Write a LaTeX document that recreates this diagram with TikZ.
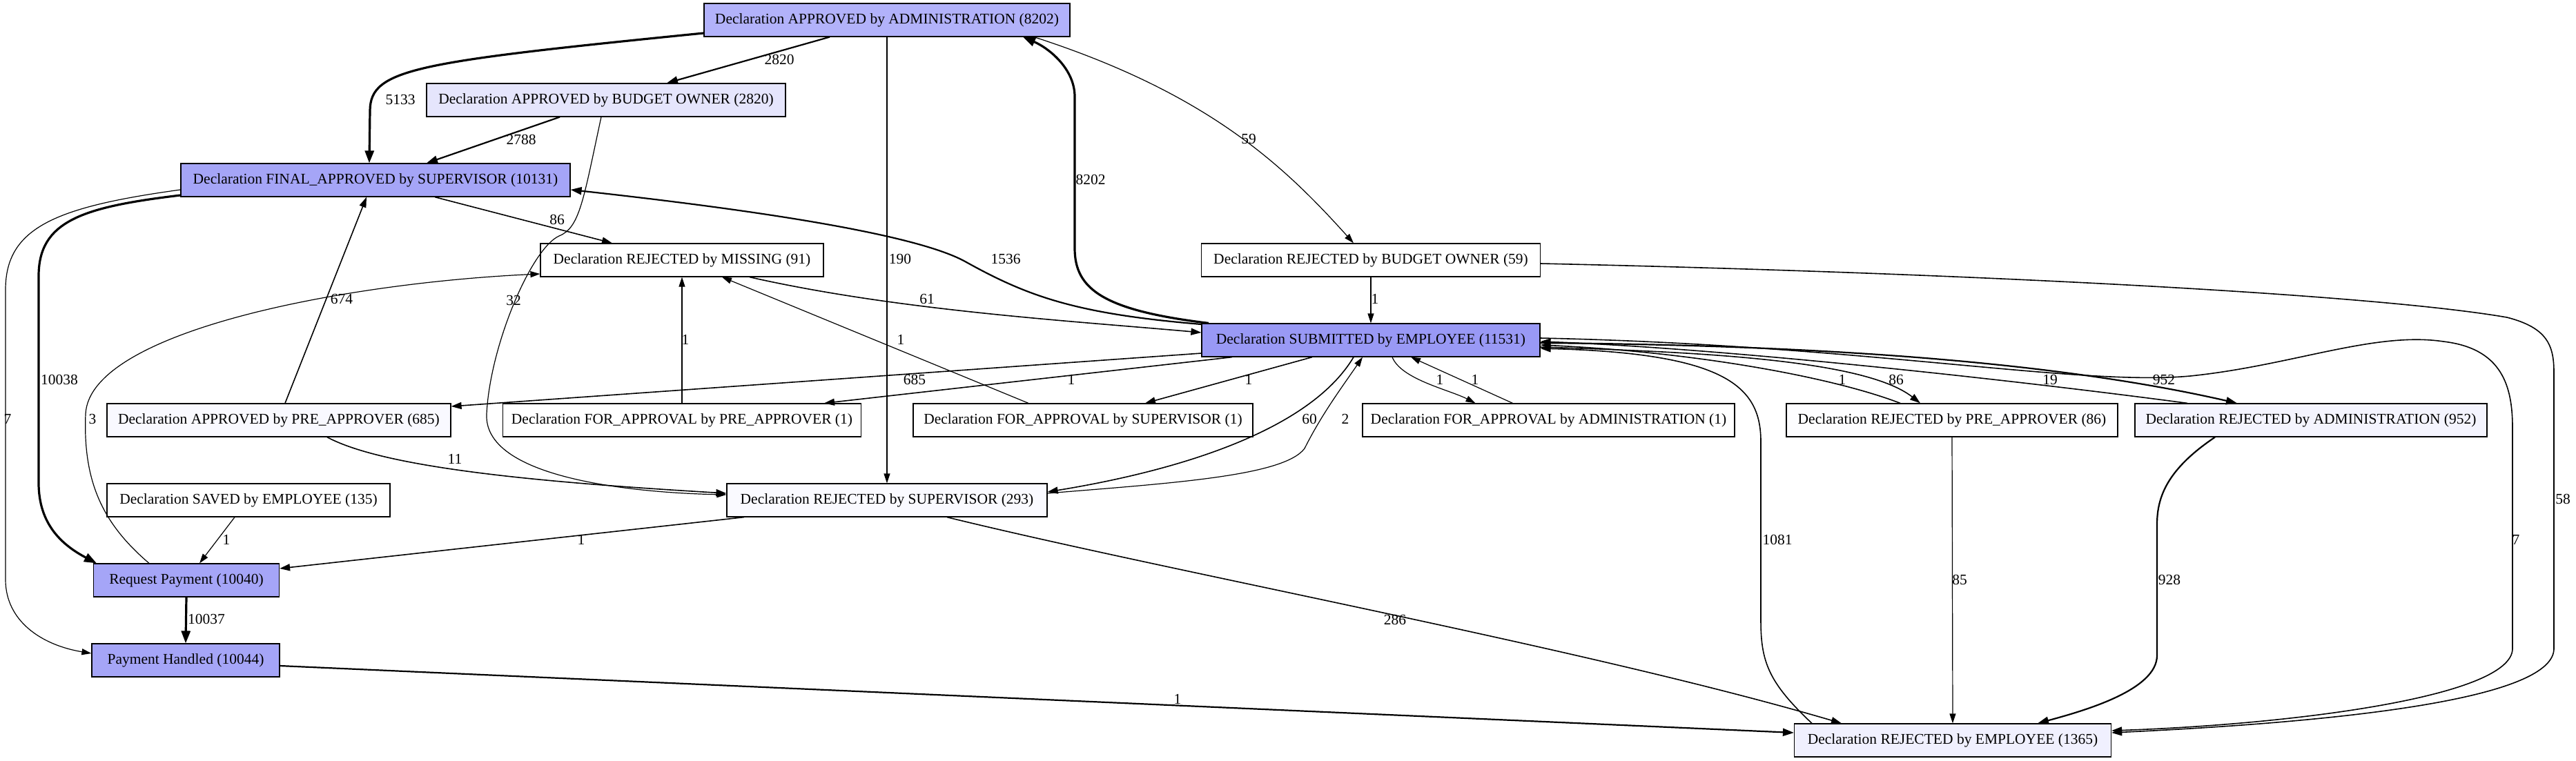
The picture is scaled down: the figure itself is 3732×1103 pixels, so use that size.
\documentclass[tikz,border=0pt]{standalone}
\usepackage{fontspec}
\setmainfont{Liberation Serif}
\usetikzlibrary{arrows.meta}
\definecolor{cA}{RGB}{178,178,250}
\definecolor{cFA}{RGB}{165,165,247}
\definecolor{cS}{RGB}{153,153,245}
\definecolor{cBO}{RGB}{229,229,252}
\definecolor{cAPA}{RGB}{249,249,255}
\definecolor{cRE}{RGB}{240,240,254}
\definecolor{cRAD}{RGB}{244,244,254}
\definecolor{cRS}{RGB}{250,250,255}
\definecolor{cRPA}{RGB}{253,253,255}
\begin{document}
\begin{tikzpicture}[x=1pt,y=-1pt,
  box/.style={draw=black, line width=1.2pt, minimum height=48pt, inner sep=2pt, font=\fontsize{21.5}{25}\selectfont},
  lbl/.style={font=\fontsize{21.5}{25}\selectfont, inner sep=0pt},
  ea/.style={line width=1.2pt, -{Triangle[length=14pt,width=9pt]}},
  eb/.style={line width=1.6pt, -{Triangle[length=15pt,width=10pt]}},
  ec/.style={line width=2.2pt, -{Triangle[length=16pt,width=11pt]}},
  ed/.style={line width=3.2pt, -{Triangle[length=18pt,width=13pt]}}]
\fill[white] (0,0) rectangle (3732,1103);
\useasboundingbox (0,0) rectangle (3732,1103);
% nodes
\node[box, fill=cA, minimum width=530pt] (A) at (1285,29) {Declaration APPROVED by ADMINISTRATION (8202)};
\node[box, fill=cBO, minimum width=520pt] (BO) at (878,145) {Declaration APPROVED by BUDGET OWNER (2820)};
\node[box, fill=cFA, minimum width=564pt] (FA) at (544,261) {Declaration FINAL\_APPROVED by SUPERVISOR (10131)};
\node[box, fill=white, minimum width=410pt] (RM) at (988,377) {Declaration REJECTED by MISSING (91)};
\node[box, fill=white, minimum width=491pt] (RBO) at (1986,377) {Declaration REJECTED by BUDGET OWNER (59)};
\node[box, fill=cS, minimum width=490pt] (S) at (1986,493) {Declaration SUBMITTED by EMPLOYEE (11531)};
\node[box, fill=cAPA, minimum width=498pt] (APA) at (404,609) {Declaration APPROVED by PRE\_APPROVER (685)};
\node[box, fill=white, minimum width=519pt] (FPA) at (988,609) {Declaration FOR\_APPROVAL by PRE\_APPROVER (1)};
\node[box, fill=white, minimum width=492pt] (FS) at (1569,609) {Declaration FOR\_APPROVAL by SUPERVISOR (1)};
\node[box, fill=white, minimum width=539pt] (FAD) at (2243.5,609) {Declaration FOR\_APPROVAL by ADMINISTRATION (1)};
\node[box, fill=cRPA, minimum width=480pt] (RPA) at (2828,609) {Declaration REJECTED by PRE\_APPROVER (86)};
\node[box, fill=cRAD, minimum width=510pt] (RAD) at (3348,609) {Declaration REJECTED by ADMINISTRATION (952)};
\node[box, fill=white, minimum width=410pt] (SAV) at (360,725) {Declaration SAVED by EMPLOYEE (135)};
\node[box, fill=cRS, minimum width=464pt] (RS) at (1285,725) {Declaration REJECTED by SUPERVISOR (293)};
\node[box, fill=cFA, minimum width=269pt] (RP) at (270,841) {Request Payment (10040)};
\node[box, fill=cFA, minimum width=272pt] (PH) at (269,957) {Payment Handled (10044)};
\node[box, fill=cRE, minimum width=459pt] (RE) at (2829,1073) {Declaration REJECTED by EMPLOYEE (1365)};
% edges
\draw[ed] ([yshift=-19pt]A.west) .. controls (600,90) and (537,100) .. (536,160) -- ([xshift=-9pt]FA.north) node[lbl] at (580,144) {5133};
\draw[ec] ([xshift=-83pt]A.south) -- ([xshift=88pt]BO.north) node[lbl] at (1129,86) {2820};
\draw[ec] ([xshift=-67pt]BO.south) -- ([xshift=74pt]FA.north) node[lbl] at (755,202) {2788};
\draw[ea] ([xshift=-7pt]BO.south) .. controls (845,290) and (840,330) .. (810,342) .. controls (770,360) and (710,500) .. (705,600) .. controls (700,700) and (950,715) .. ([yshift=8pt]RS.west) node[lbl] at (744,435) {32};
\draw[ea] (A.south) -- (RS.north) node[lbl] at (1304,375) {190};
\draw[ed] ([xshift=-235pt]S.north) .. controls (1600,450) and (1557,420) .. (1557,360) -- (1557,140) .. controls (1557,100) and (1520,70) .. ([xshift=197pt]A.south) node[lbl] at (1580,260) {8202};
\draw[ea] ([xshift=213pt]A.south) .. controls (1750,135) and (1860,240) .. ([xshift=-25pt]RBO.north) node[lbl] at (1809,201) {59};
\draw[eb] ([xshift=86pt]FA.south) -- ([xshift=-101pt]RM.north) node[lbl] at (807,318) {86};
\draw[ec] ([yshift=23pt]S.west) .. controls (1560,455) and (1490,430) .. (1400,380) .. controls (1330,340) and (1100,305) .. ([yshift=-14pt]FA.east) node[lbl] at (1457,375) {1536};
\draw[eb] ([xshift=98pt]RM.south) .. controls (1300,450) and (1550,465) .. ([yshift=11pt]S.west) node[lbl] at (1343,433) {61};
\draw[eb] ([xshift=9pt]APA.north) -- ([xshift=-13pt]FA.south) node[lbl] at (495,433) {674};
\draw[ea] ([xshift=-54pt]RP.north) .. controls (150,760) and (120,700) .. (124,600) .. controls (130,480) and (500,410) .. ([yshift=-20pt]RM.west) node[lbl] at (134,607) {3};
\draw[ea] (FPA.north) -- (RM.south) node[lbl] at (993,492) {1};
\draw[ea] ([xshift=-79pt]FS.north) -- ([xshift=58pt]RM.south) node[lbl] at (1305,492) {1};
\draw[eb] ([yshift=-19pt]S.west) -- ([yshift=20pt]APA.east) node[lbl] at (1325,550) {685};
\draw[eb] ([xshift=-201pt]S.south) -- ([xshift=206pt]FPA.north) node[lbl] at (1552,550) {1};
\draw[eb] ([xshift=-85pt]S.south) -- ([xshift=90pt]FS.north) node[lbl] at (1809,550) {1};
\draw[eb] ([xshift=-25pt]S.south) .. controls (1900,620) and (1720,680) .. ([yshift=12pt]RS.east) node[lbl] at (1897,607) {60};
\draw[ea] ([yshift=10pt]RS.east) .. controls (1700,700) and (1860,690) .. (1890,650) .. controls (1915,600) and (1945,560) .. ([xshift=-12pt]S.south) node[lbl] at (1949,607) {2};
\draw[ea] ([xshift=31pt]S.south) .. controls (2030,550) and (2100,565) .. ([xshift=-106pt]FAD.north) node[lbl] at (2086,550) {1};
\draw[ea] ([xshift=-52pt]FAD.north) -- ([xshift=58pt]S.south) node[lbl] at (2137,550) {1};
\draw[eb] ([yshift=-10pt]S.east) .. controls (2450,510) and (2700,520) .. ([xshift=-46pt]RPA.north) node[lbl] at (2747,550) {86};
\draw[eb] ([xshift=-75pt]RPA.north) .. controls (2650,545) and (2450,510) .. ([yshift=-7pt]S.east) node[lbl] at (2669,550) {1};
\draw[ec] ([yshift=-4pt]S.east) .. controls (2600,500) and (2960,520) .. ([xshift=-107pt]RAD.north) node[lbl] at (3135,550) {952};
\draw[eb] ([xshift=-179pt]RAD.north) .. controls (2910,550) and (2500,505) .. ([yshift=-2pt]S.east) node[lbl] at (2970,550) {19};
\draw[eb] ([xshift=-204pt]RE.north) .. controls (2563,990) and (2551,960) .. (2551,900) -- (2551,640) .. controls (2551,560) and (2500,512) .. ([yshift=-12pt]S.east) node[lbl] at (2575,782) {1081};
\draw[eb] ([yshift=3pt]S.east) .. controls (2700,500) and (3010,560) .. (3173,545) .. controls (3320,530) and (3440,480) .. (3540,495) .. controls (3625,505) and (3640,560) .. (3640,620) -- (3640,940) .. controls (3640,1010) and (3320,1050) .. ([yshift=14pt]RE.east) node[lbl] at (3645,782) {7};
\draw[ea] (RBO.south) -- (S.north) node[lbl] at (1992,433) {1};
\draw[eb] ([yshift=-5pt]RBO.east) .. controls (2820,395) and (3430,425) .. (3632,460) .. controls (3690,475) and (3700,500) .. (3700,540) -- (3700,940) .. controls (3700,1010) and (3420,1045) .. ([yshift=11pt]RE.east) node[lbl] at (3713,723) {58};
\draw[ea] (RPA.south) -- (RE.north) node[lbl] at (2839,840) {85};
\draw[ec] ([xshift=-139pt]RAD.south) .. controls (3140,680) and (3125,720) .. (3125,760) -- (3125,950) .. controls (3125,1000) and (3020,1030) .. ([xshift=123pt]RE.north) node[lbl] at (3143,840) {928};
\draw[eb] ([xshift=87pt]RS.south) .. controls (1700,830) and (2300,940) .. ([xshift=-161pt]RE.north) node[lbl] at (2021,898) {286};
\draw[eb] ([xshift=-207pt]RS.south) -- ([yshift=17pt]RP.east) node[lbl] at (842,782) {1};
\draw[ea] ([xshift=-20pt]SAV.south) -- ([xshift=19pt]RP.north) node[lbl] at (328,782) {1};
\draw[ed] ([yshift=-22pt]FA.west) .. controls (120,300) and (56,320) .. (56,400) -- (56,700) .. controls (56,760) and (90,790) .. ([xshift=-130pt]RP.north) node[lbl] at (86,550) {10038};
\draw[ea] ([yshift=-14pt]FA.west) .. controls (80,300) and (8,330) .. (8,420) -- (8,840) .. controls (8,900) and (60,935) .. ([yshift=10pt]PH.west) node[lbl] at (11,607) {7};
\draw[ed] (RP.south) -- (PH.north) node[lbl] at (299,897) {10037};
\draw[ec] ([yshift=-8pt]PH.east) -- ([yshift=11pt]RE.west) node[lbl] at (1706,1013) {1};
\draw[eb] ([xshift=70pt]APA.south) .. controls (560,680) and (800,700) .. ([yshift=10pt]RS.west) node[lbl] at (659,665) {11};
\end{tikzpicture}
\end{document}
